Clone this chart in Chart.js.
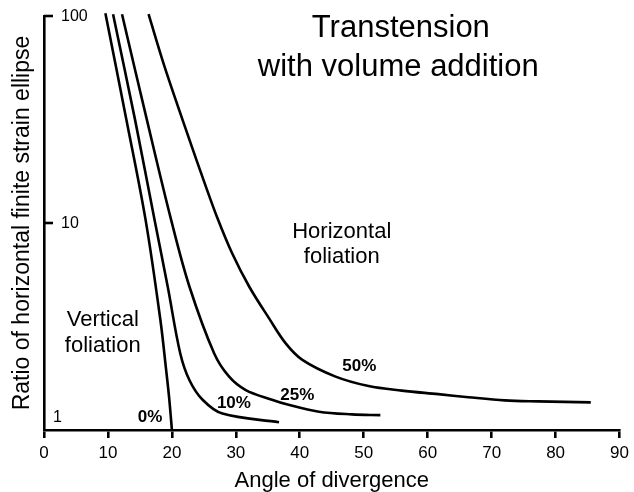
<!DOCTYPE html>
<html><head><meta charset="utf-8">
<script src="https://cdn.jsdelivr.net/npm/chart.js@4/dist/chart.umd.min.js"></script>
<style>html,body{margin:0;padding:0;background:#fff}canvas{display:block}</style>
</head><body>
<canvas id="c" width="634" height="492"></canvas>
<script>
// ---- data ----
const seriesNames = ['0%', '10%', '25%', '50%'];

const angle0 = [9.6, 12.9, 15.9, 18.2, 19.1, 19.6, 20];
const ratio0 = [103, 31.4, 10.3, 3.4, 1.95, 1.4, 1.0];

const angle10 = [10.8, 14.25, 17.3, 19.35, 21.3, 22.75, 24.8, 27.9, 36.75];
const ratio10 = [102, 31.4, 10.3, 4.92, 2.35, 1.74, 1.40, 1.20, 1.09];

const angle25 = [12.2, 16.1, 19.9, 22.75, 26.6, 28.95, 31.55, 35.65, 37.8, 43.0, 48.15, 52.6];
const ratio25 = [102, 31.4, 10.3, 4.92, 2.35, 1.81, 1.56, 1.40, 1.335, 1.226, 1.19, 1.18];

const angle50 = [16.35, 18.85, 22.75, 25.05, 27.1, 29.4, 32.1, 35.2, 37.8, 40.4, 45.6, 50.75, 55.95, 61.65, 66.35, 72.05, 77.25, 85.5];
const ratio50 = [102, 56.9, 25.2, 15.8, 10.6, 7.16, 4.92, 3.46, 2.62, 2.18, 1.81, 1.63, 1.55, 1.49, 1.44, 1.39, 1.375, 1.36];

const xTickValues = [0, 10, 20, 30, 40, 50, 60, 70, 80, 90];
const yTickValues = [1, 10, 100];

const titleLines = ['Transtension', 'with volume addition'];
const xTitle = 'Angle of divergence';
const yTitle = 'Ratio of horizontal finite strain ellipse';

// ---- layout / text placement (not data) ----
const FONT = '"Liberation Sans", Arial, Helvetica, sans-serif';
const notes = [
  {text: seriesNames[0], x: 16.6, y: 1.097, font: 'bold 17px ' + FONT},
  {text: seriesNames[1], x: 29.7, y: 1.273, font: 'bold 17px ' + FONT},
  {text: seriesNames[2], x: 39.6, y: 1.396, font: 'bold 17px ' + FONT},
  {text: seriesNames[3], x: 49.3, y: 1.933, font: 'bold 17px ' + FONT},
  {text: 'Horizontal', x: 46.56, y: 8.45, font: '22px ' + FONT},
  {text: 'foliation', x: 46.56, y: 6.41, font: '22px ' + FONT},
  {text: 'Vertical', x: 9.19, y: 3.19, font: '22px ' + FONT},
  {text: 'foliation', x: 9.19, y: 2.39, font: '22px ' + FONT},
  {text: titleLines[0], x: 55.8, y: 79.1, font: '31px ' + FONT},
  {text: titleLines[1], x: 55.4, y: 51.3, font: '31px ' + FONT}
];

function pts(xs, ys) { return xs.map((x, i) => ({x: x, y: ys[i]})); }

const allAngles = [angle0, angle10, angle25, angle50];
const allRatios = [ratio0, ratio10, ratio25, ratio50];

const datasets = seriesNames.map((name, i) => ({
  label: name,
  data: pts(allAngles[i], allRatios[i]),
  borderColor: '#000',
  borderWidth: 2.6,
  pointRadius: 0,
  fill: false,
  tension: 0.35,
  clip: false
}));

const overlay = {
  id: 'overlay',
  afterDraw(chart) {
    const ctx = chart.ctx;
    const xs = chart.scales.x, ys = chart.scales.y;
    const left = chart.chartArea.left;
    ctx.save();
    // inward y ticks and labels
    ctx.strokeStyle = '#000';
    ctx.lineWidth = 2.6;
    ctx.fillStyle = '#000';
    ctx.font = '16px ' + FONT;
    ctx.textAlign = 'left';
    ctx.textBaseline = 'middle';
    yTickValues.forEach(v => {
      const py = ys.getPixelForValue(v);
      if (v === 1) {
        ctx.fillText(String(v), left + 9, py - 12);
      } else {
        ctx.beginPath();
        ctx.moveTo(left, py);
        ctx.lineTo(left + 9, py);
        ctx.stroke();
        ctx.fillText(String(v), left + 17, py + 1);
      }
    });
    // annotations
    ctx.textAlign = 'center';
    ctx.textBaseline = 'alphabetic';
    notes.forEach(n => {
      ctx.font = n.font;
      ctx.fillText(n.text, xs.getPixelForValue(n.x), ys.getPixelForValue(n.y));
    });
    ctx.restore();
  }
};

new Chart(document.getElementById('c'), {
  type: 'line',
  data: {datasets: datasets},
  options: {
    responsive: false,
    animation: false,
    devicePixelRatio: 1,
    layout: {padding: {top: 16, right: 12, left: 0, bottom: 0}},
    plugins: {legend: {display: false}, tooltip: {enabled: false}, title: {display: false}},
    scales: {
      x: {
        type: 'linear',
        min: 0, max: 90,
        afterFit(s) { s.height = 62; },
        afterBuildTicks(s) { s.ticks = xTickValues.map(v => ({value: v})); },
        grid: {display: true, drawOnChartArea: false, drawTicks: true, tickLength: 8, color: '#000', lineWidth: 2.6},
        border: {display: true, color: '#000', width: 2.6},
        ticks: {color: '#000', font: {family: FONT, size: 17}, padding: 5, maxRotation: 0},
        title: {display: true, text: xTitle, color: '#000', font: {family: FONT, size: 22, lineHeight: 1}, padding: {top: 0, bottom: 0}}
      },
      y: {
        type: 'logarithmic',
        min: 1, max: 100,
        afterFit(s) { s.width = 44; },
        grid: {display: false},
        border: {display: true, color: '#000', width: 2.6},
        ticks: {display: false},
        title: {display: true, text: yTitle, color: '#000', font: {family: FONT, size: 23, lineHeight: 1}, padding: {top: 11, bottom: 0}}
      }
    }
  },
  plugins: [overlay]
});
</script>
</body></html>
